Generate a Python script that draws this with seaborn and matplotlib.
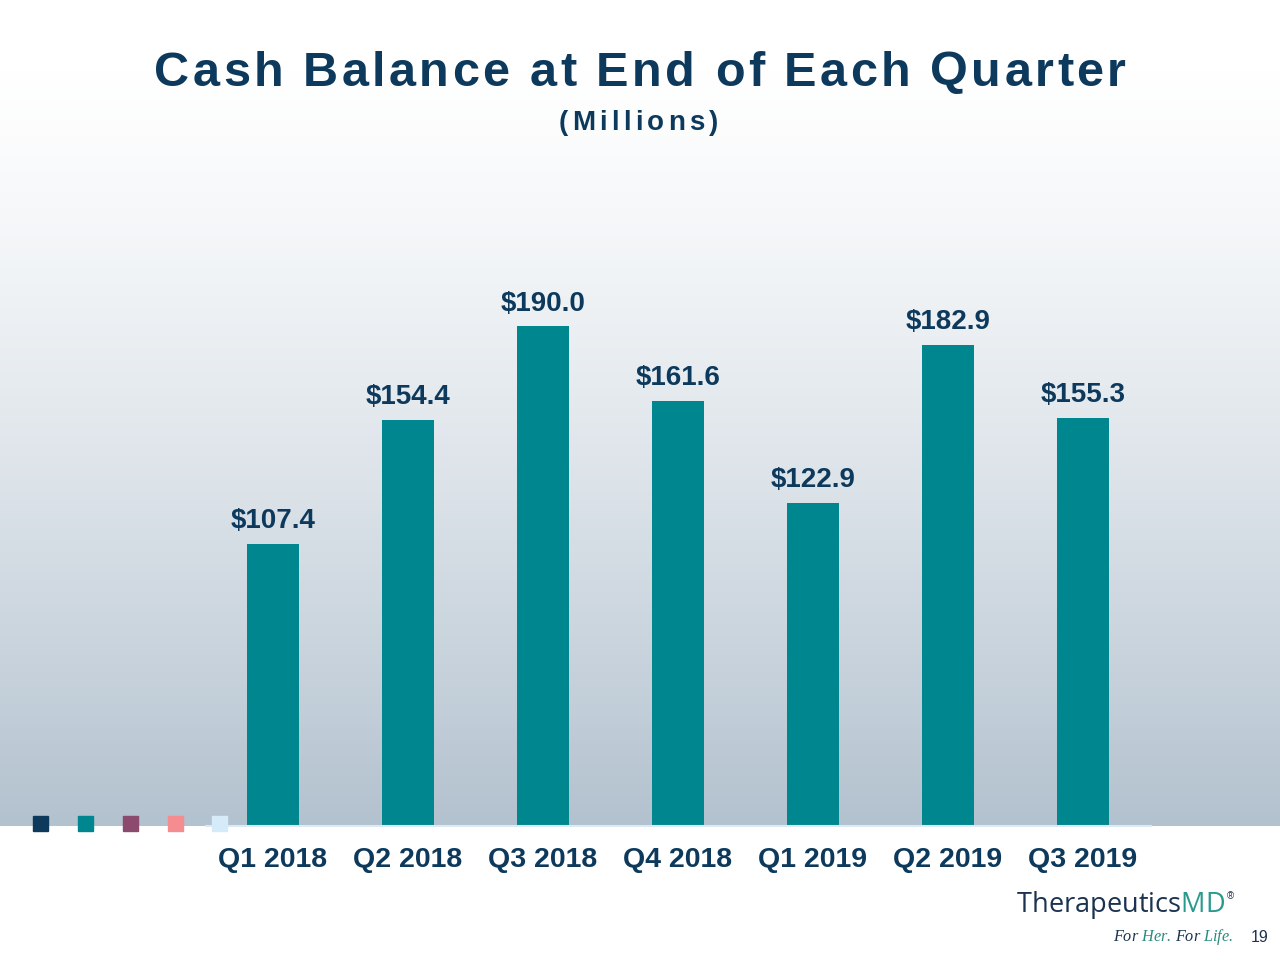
import numpy as np
import pandas as pd
import matplotlib.pyplot as plt
import seaborn as sns
from matplotlib.colors import LinearSegmentedColormap
from matplotlib.font_manager import FontProperties, findfont
from matplotlib.ft2font import FT2Font

# 분기별 현금 잔고 (백만 달러)
quarters = ["Q1 2018", "Q2 2018", "Q3 2018", "Q4 2018", "Q1 2019", "Q2 2019", "Q3 2019"]
cash = [107.4, 154.4, 190.0, 161.6, 122.9, 182.9, 155.3]
labels = ["$107.4", "$154.4", "$190.0", "$161.6", "$122.9", "$182.9", "$155.3"]

# 하단 장식용 색상 박스
deco_colors = ["#0d3a5c", "#00868f", "#8b4a6e", "#f48c90", "#d6ebf9"]

navy = "#0d3a5c"
teal = "#00868f"
W, H = 1280, 960

df = pd.DataFrame({"quarter": quarters, "cash": cash})

sns.set_style("white")
plt.rcParams['font.family'] = ['Liberation Sans', 'DejaVu Sans']

fig = plt.figure(figsize=(12.8, 9.6), dpi=100)
fig.patch.set_facecolor("white")


def advances(s, prop):
    font = FT2Font(findfont(prop))
    font.set_size(prop.get_size_in_points(), 100)
    return [font.load_char(ord(c)).linearHoriAdvance / 65536 for c in s]


def spaced_text(x, y, s, prop, spacing=0.0, color=navy, ha="center"):
    # 자간을 넓혀서 글자 하나씩 그리기 (픽셀 좌표)
    adv = advances(s, prop)
    total = sum(adv) + spacing * (len(s) - 1)
    x0 = x - total / 2 if ha == "center" else x
    cols = color if isinstance(color, list) else [color] * len(s)
    for c, a, col in zip(s, adv, cols):
        if c != " ":
            fig.text(x0 / W, 1 - y / H, c, fontproperties=prop, color=col,
                     ha="left", va="center")
        x0 += a + spacing
    return x0


# 배경 그라데이션
bg = fig.add_axes([0, 1 - 826 / H, 1, 826 / H], zorder=-1)
cmap = LinearSegmentedColormap.from_list("bg", ["#ffffff", "#b3c2cf"])
t = np.clip((np.linspace(0, 826, 512) - 60) / (826 - 60), 0, 1)
bg.imshow((t ** 1.3).reshape(-1, 1), aspect="auto", cmap=cmap, vmin=0, vmax=1,
          extent=[0, 1, 0, 1], origin="upper")
bg.axis("off")

ax = fig.add_axes([205.5 / W, 1 - 826 / H, 945 / W, 657.5 / H])
ax.patch.set_alpha(0)
sns.barplot(data=df, x="quarter", y="cash", color=teal, width=0.39,
            saturation=1, linewidth=0, ax=ax)
ax.set_xlim(-0.5, 6.5)
ax.set_ylim(0, 250)

for i, (v, lab) in enumerate(zip(cash, labels)):
    ax.annotate(lab, (i, v), xytext=(0, 7), textcoords="offset points",
                ha="center", va="bottom", fontsize=20, fontweight="bold", color=navy)

ax.set_xlabel("")
ax.set_ylabel("")
ax.set_yticks([])
ax.tick_params(axis="x", length=0, pad=15, labelsize=20.5, labelcolor=navy)
for tl in ax.get_xticklabels():
    tl.set_fontweight("bold")
for s in ["top", "left", "right"]:
    ax.spines[s].set_visible(False)
ax.spines["bottom"].set_color("#dceaf5")
ax.spines["bottom"].set_linewidth(1.5)

# 제목
title_prop = FontProperties(family="Liberation Sans", weight="bold", size=35)
spaced_text(640, 73, "Cash Balance at End of Each Quarter", title_prop, spacing=3.3)
sub_prop = FontProperties(family="Liberation Sans", weight="bold", size=20)
spaced_text(638, 123, "(Millions)", sub_prop, spacing=4.2)

# 장식 박스
for x, c in zip([40, 85, 130, 175, 219], deco_colors):
    fig.patches.append(plt.Rectangle(((x - 7.5) / W, 1 - 831 / H), 15 / W, 15 / H,
                                     transform=fig.transFigure, color=c, zorder=5))

# 로고
logo_prop = FontProperties(family="Open Sans", size=19.5, weight="medium")
xe = spaced_text(1017, 905, "Therapeutics", logo_prop, color="#1b3350", ha="left")
xe = spaced_text(xe, 905, "MD", logo_prop, color="#2a9a8c", ha="left")
fig.text((xe + 2) / W, 1 - 896 / H, "®", ha="left", va="center", fontsize=7, color="#1b3350")

tag_prop = FontProperties(family="Liberation Serif", style="italic", size=11.7)
tag = "For Her. For Life."
tag_cols = ["#1b3350"] * 4 + ["#2a8a80"] * 4 + ["#1b3350"] * 5 + ["#2a8a80"] * 5
spaced_text(1113, 937, tag, tag_prop, color=tag_cols, ha="left")
fig.text(1260 / W, 1 - 938 / H, "19", ha="center", va="center", fontsize=11.5, color="#1b3350")

fig.savefig("out.png", dpi=100)
